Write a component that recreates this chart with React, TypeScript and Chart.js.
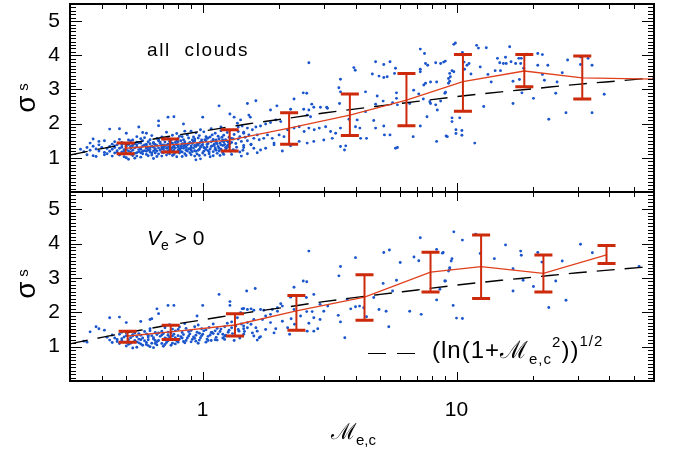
import React, { useEffect, useRef } from "react";
import { Chart, registerables } from "chart.js";

Chart.register(...registerables);

// ---------- axes ----------
const xMin = 0.3;
const xMax = 60;
const yMin = 0;
const yMax = 5.5;
const yTickLabels = [1, 2, 3, 4, 5];
const xTickLabels = [1, 10];

// ---------- binned means with error bars ----------
const topBinX = [0.497, 0.744, 1.277, 2.19, 3.8, 6.35, 10.6, 18.5, 31.3, 60];
const topBinMean = [1.28, 1.38, 1.52, 1.87, 2.25, 2.69, 3.23, 3.54, 3.34, 3.3];
const topBinLo: (number | null)[] = [1.12, 1.17, 1.2, 1.4, 1.65, 1.94, 2.36, 3.08, 2.72, null];
const topBinHi: (number | null)[] = [1.43, 1.55, 1.82, 2.32, 2.87, 3.47, 4.02, 4.02, 3.98, null];

const botBinX = [0.506, 0.748, 1.34, 2.34, 4.34, 7.9, 12.5, 22.0, 39.0];
const botBinMean = [1.31, 1.43, 1.63, 2.04, 2.44, 3.17, 3.33, 3.13, 3.67];
const botBinLo: (number | null)[] = [1.13, 1.21, 1.31, 1.48, 1.77, 2.59, 2.4, 2.59, 3.42];
const botBinHi: (number | null)[] = [1.45, 1.62, 1.96, 2.49, 3.09, 3.75, 4.25, 3.67, 3.94];

// ---------- reference curve (ln(1+M^2))^1/2 ----------
const curveX = [0.3, 0.4, 0.5, 0.7, 1, 1.5, 2, 3, 5, 7, 10, 15, 20, 30, 45, 60];
const curveY = [1.08, 1.27, 1.4, 1.6, 1.78, 1.99, 2.12, 2.31, 2.52, 2.65, 2.79, 2.93, 3.02, 3.15, 3.26, 3.34];

// ---------- scatter: all clouds ----------
const topCorePts: [number, number][] = [
  [0.44,1.05],[0.49,1.03],[0.53,1.07],[0.57,1.02],[0.61,1.06],[0.66,1.04],[0.72,1.08],[0.79,1.03],[0.86,1.07],[0.93,1.05],[1.02,1.08],[1.1,1.06],
  [0.42,1.12],[0.45,1.14],[0.47,1.1],[0.5,1.13],[0.52,1.11],[0.55,1.15],[0.58,1.12],[0.6,1.1],[0.63,1.14],[0.67,1.11],[0.7,1.15],[0.74,1.12],[0.77,1.1],[0.81,1.14],[0.85,1.12],[0.89,1.15],[0.95,1.11],[1.0,1.14],[1.06,1.12],[1.14,1.13],[1.21,1.1],
  [0.43,1.19],[0.46,1.21],[0.48,1.17],[0.51,1.2],[0.53,1.22],[0.56,1.18],[0.59,1.21],[0.62,1.17],[0.64,1.2],[0.68,1.22],[0.71,1.18],[0.73,1.21],[0.76,1.19],[0.8,1.22],[0.83,1.17],[0.87,1.2],[0.91,1.18],[0.96,1.22],[1.01,1.19],[1.05,1.21],[1.1,1.18],[1.16,1.2],[1.23,1.22],[1.29,1.19],
  [0.42,1.27],[0.44,1.25],[0.47,1.28],[0.49,1.24],[0.52,1.27],[0.54,1.29],[0.57,1.25],[0.6,1.28],[0.62,1.24],[0.65,1.27],[0.67,1.29],[0.7,1.25],[0.72,1.28],[0.75,1.26],[0.78,1.29],[0.81,1.25],[0.84,1.28],[0.88,1.26],[0.92,1.29],[0.97,1.25],[1.02,1.28],[1.07,1.26],[1.12,1.29],[1.18,1.25],[1.24,1.28],
  [0.43,1.33],[0.45,1.35],[0.48,1.31],[0.5,1.34],[0.53,1.36],[0.55,1.32],[0.58,1.35],[0.61,1.31],[0.63,1.34],[0.66,1.36],[0.69,1.32],[0.71,1.35],[0.74,1.33],[0.77,1.36],[0.8,1.31],[0.82,1.34],[0.86,1.32],[0.9,1.35],[0.94,1.33],[0.99,1.36],[1.04,1.32],[1.09,1.35],[1.15,1.33],[1.2,1.36],[1.27,1.32],
  [0.44,1.4],[0.46,1.38],[0.49,1.42],[0.51,1.39],[0.54,1.41],[0.57,1.43],[0.59,1.38],[0.62,1.41],[0.65,1.39],[0.68,1.42],[0.7,1.38],[0.73,1.4],[0.76,1.43],[0.79,1.39],[0.83,1.41],[0.87,1.38],[0.91,1.42],[0.95,1.4],[1.0,1.38],[1.05,1.42],[1.11,1.4],[1.17,1.43],[1.22,1.39],[1.28,1.41],
  [0.45,1.47],[0.48,1.45],[0.52,1.49],[0.55,1.46],[0.58,1.5],[0.61,1.47],[0.64,1.45],[0.67,1.49],[0.71,1.46],[0.74,1.48],[0.78,1.45],[0.82,1.5],[0.85,1.47],[0.89,1.45],[0.93,1.49],[0.98,1.46],[1.03,1.5],[1.08,1.47],[1.13,1.45],[1.19,1.49],[1.26,1.46],
  [0.47,1.54],[0.53,1.52],[0.57,1.56],[0.62,1.53],[0.66,1.57],[0.7,1.54],[0.75,1.52],[0.8,1.56],[0.84,1.53],[0.88,1.58],[0.93,1.55],[0.99,1.52],[1.04,1.57],[1.1,1.54],[1.16,1.56],[1.23,1.53],[1.3,1.57],
  [0.55,1.62],[0.63,1.65],[0.69,1.61],[0.76,1.66],[0.81,1.63],[0.87,1.67],[0.92,1.61],[0.97,1.65],[1.03,1.62],[1.09,1.67],[1.15,1.63],[1.21,1.66],[1.27,1.6],
  [0.6,1.72],[0.72,1.75],[0.79,1.71],[0.85,1.78],[0.94,1.73],[1.01,1.76],[1.12,1.72],[1.18,1.79],[1.25,1.74],
  [0.98,0.97],[0.64,0.98],[0.5,1.0],[0.41,1.16],[0.39,1.2],[0.38,1.26],[0.36,1.22],[0.34,1.18],[0.4,1.3],[0.37,1.34],[0.33,1.25],[0.35,1.3],[0.39,1.38],
  [1.32,1.24],[1.35,1.42],[1.38,1.55],[1.4,1.17],[1.33,1.68],[1.36,1.31],[1.42,1.48],[1.45,1.36],[1.47,1.6],[1.3,1.1],[1.38,1.77],[1.44,1.22],
  [1.05,1.58],[1.12,1.25],[1.2,1.15],[1.25,1.35],[1.3,1.45],[1.35,1.2],[1.4,1.62],[1.45,1.3],[1.5,1.5],[1.5,1.12],[1.55,1.4],[1.45,1.75],[1.38,1.9],[1.42,1.05],[1.28,1.8],[1.18,1.9],[1.08,1.85],[0.98,1.82],[0.9,1.78],[1.32,1.55],
  [0.52,1.17],[0.56,1.24],[0.6,1.19],[0.65,1.23],[0.69,1.16],[0.73,1.3],[0.77,1.23],[0.82,1.18],[0.86,1.3],[0.9,1.23],[0.55,1.38],[0.6,1.33],[0.64,1.42],[0.69,1.37],[0.75,1.44],[0.8,1.37],[0.85,1.43],[0.57,1.29],[0.7,1.3],[0.93,1.36],
  [0.46,1.16],[0.5,1.24],[0.54,1.13],[0.58,1.19],[0.62,1.3],[0.66,1.2],[0.7,1.34],[0.74,1.24],[0.78,1.16],[0.82,1.28],[0.86,1.22],[0.9,1.3],[0.94,1.19],[0.98,1.31],[1.03,1.24],[1.08,1.33],[1.13,1.22],[1.18,1.38],[1.23,1.3],[1.27,1.45],
  [0.48,1.38],[0.52,1.33],[0.56,1.44],[0.6,1.4],[0.64,1.31],[0.68,1.46],[0.72,1.37],[0.76,1.3],[0.8,1.47],[0.84,1.34],[0.88,1.41],[0.92,1.48],[0.96,1.37],[1.0,1.45],[1.04,1.39],[1.1,1.5],[1.14,1.41],[1.2,1.52],
  [0.45,1.3],[0.49,1.19],[0.53,1.41],[0.57,1.15],[0.61,1.23],[0.65,1.14],[0.69,1.27],[0.73,1.15],[0.77,1.32],[0.81,1.2],[0.85,1.38],[0.89,1.27],[0.93,1.21],[0.97,1.43],[1.01,1.3],[1.06,1.17],[1.11,1.36],[1.16,1.28],[1.21,1.46],[1.26,1.38],
  [0.51,1.52],[0.59,1.59],[0.67,1.53],[0.73,1.6],[0.79,1.5],[0.83,1.62],[0.91,1.52],[0.96,1.58],[1.02,1.53],[1.07,1.61],[1.13,1.52],[1.19,1.6],[1.24,1.5],
  [0.47,1.08],[0.55,1.05],[0.63,1.08],[0.69,1.05],[0.76,1.07],[0.83,1.04],[0.9,1.09],[0.97,1.07],[1.07,1.03],[1.17,1.07]
];
const topOuterPts: [number, number][] = [
  [1.16,2.52],[0.73,2.19],[0.77,2.2],[0.67,2.08],[0.67,1.94],[0.84,1.99],[1.0,2.19],[0.47,1.85],[0.5,1.72],[0.58,1.74],[0.56,1.9],[0.43,1.84],
  [1.28,2.28],[1.33,2.19],[1.37,2.01],[0.36,1.43],[0.37,1.55],[0.39,1.48],[0.41,1.5],[0.35,1.09],[0.37,1.06],[0.38,1.04],[0.41,1.09],[0.94,0.94],[0.51,0.96],[0.54,0.99]
];
const topMidPts: [number, number][] = [
  [2.62,3.78],[2.49,2.9],[2.57,2.89],[2.29,2.72],[2.69,2.57],[2.74,2.48],[3.1,2.45],[3.44,3.05],[3.49,2.93],[3.49,3.3],[3.46,2.59],[3.94,3.64],[3.99,3.56],
  [4.38,2.93],[4.8,3.81],[5.17,3.73],[5.47,3.81],[4.66,3.45],[4.95,3.39],[5.17,3.35],[5.75,3.62],[5.7,3.47],[5.8,2.9],[4.8,2.57],[5.14,2.66],[4.87,2.81],
  [5.6,2.61],[5.85,2.55],[4.72,2.09],[4.38,2.35],[3.77,2.13],[4.06,2.11],[4.0,1.91],[4.16,1.87],[3.66,1.35],[3.62,1.23],[4.19,1.57],[4.42,1.57],[5.2,1.67],
  [5.47,1.67],[5.75,1.28],[5.85,1.3],[6.75,1.62],[7.2,4.18],[7.48,4.05],[7.2,3.52],[7.9,3.22],[7.55,3.76],[7.7,3.71],[8.28,3.78],[7.1,2.87],[7.4,2.72],
  [7.9,2.59],[8.28,2.55],[7.65,2.2],[7.2,1.93],[9.2,1.62],[9.3,3.32],[9.4,3.47],[5.8,2.74],[5.33,3.37],[4.8,1.87],[5.17,1.93],
  [6.54,2.59],[6.78,2.98],[7.2,3.59],[7.43,3.13],[7.55,3.18],[7.85,2.64],[8.35,3.22],[8.4,2.4],[8.35,1.48],
  [1.5,2.59],[1.62,2.67],[1.85,2.4],[1.96,2.52],[1.52,2.25],[1.54,2.19],[1.41,2.11],[2.22,2.42],[2.5,2.42],[2.62,2.4],[2.91,2.48],[3.08,2.48],[2.58,2.25],[2.66,2.2],
  [1.43,1.93],[1.5,1.87],[1.57,1.82],[1.62,1.9],[1.69,1.93],[1.77,1.99],[1.85,2.03],[1.94,2.11],[2.03,2.06],
  [1.45,1.72],[1.52,1.67],[1.59,1.57],[1.64,1.67],[1.67,1.53],[1.74,1.57],[1.8,1.67],[1.88,1.57],[1.91,1.43],[2.0,1.67],[2.09,1.62],[2.16,1.82],[2.29,1.87],
  [2.4,1.91],[2.51,1.77],[2.62,1.87],[2.75,1.82],[2.88,1.87],[3.05,1.91],[3.19,1.77],[3.34,1.72],[3.49,1.87],
  [1.55,1.38],[1.59,1.28],[1.64,1.15],[1.69,1.23],[1.77,1.28],[1.91,1.38],[2.06,1.2],[2.22,1.35],[2.4,1.48],[2.58,1.43],[2.74,1.48],[3.0,1.52],[3.24,1.57],[3.49,1.33]
];
const topHighPts: [number, number][] = [
  [9.76,4.32],[9.9,4.36],[10.55,4.08],[8.66,3.76],[8.9,3.8],[9.04,3.83],[9.6,3.55],[9.76,3.52],[9.46,3.37],[9.4,3.24],[9.3,3.18],[9.0,2.89],[8.66,2.66],
  [10.7,3.8],[10.76,3.59],[11.0,3.71],[11.2,3.76],[11.4,3.45],[12.0,4.29],[12.2,4.21],[13.1,4.22],[12.4,3.66],[13.3,3.44],[13.7,3.22],[14.2,3.55],[14.9,3.55],
  [14.5,3.91],[14.8,3.78],[15.3,3.76],[15.7,3.76],[15.6,3.94],[16.2,4.25],[16.4,3.81],[17.1,3.76],[17.6,3.91],[18.0,3.91],[17.9,3.76],[18.4,3.62],[16.7,3.24],
  [17.7,3.29],[18.1,2.9],[16.7,2.59],[18.9,4.03],[20.9,4.05],[21.8,4.02],[20.9,3.71],[21.8,3.44],[22.9,3.71],[22.2,3.27],[20.1,2.74],[24.6,2.89],[24.9,3.22],
  [26.1,3.49],[27.4,3.86],[30.8,3.95],[33.0,3.91],[30.8,3.73],[34.2,3.71],[23.1,2.13],[27.0,2.32],[34.2,2.32],[38.2,2.86],[12.8,2.5],[9.6,2.17],[10.3,2.17],
  [9.6,2.06],[9.95,1.82],[10.5,1.8],[9.95,1.71],[10.5,1.66],[9.1,1.64],[11.8,1.43],[9.05,2.92]
];

// ---------- scatter: V_e > 0 ----------
const botCorePts: [number, number][] = [
  [0.5,1.02],[0.55,0.98],[0.58,1.04],[0.62,1.0],[0.66,1.05],[0.7,1.01],[0.75,1.04],[0.53,0.96],[0.6,1.06],[0.64,0.97],
  [0.44,1.12],[0.47,1.09],[0.5,1.13],[0.52,1.1],[0.55,1.14],[0.57,1.08],[0.6,1.12],[0.63,1.1],[0.66,1.14],[0.69,1.09],[0.72,1.12],[0.76,1.1],[0.8,1.13],[0.85,1.11],[0.9,1.14],[0.96,1.1],[1.03,1.13],
  [0.43,1.19],[0.46,1.21],[0.48,1.17],[0.51,1.2],[0.54,1.18],[0.56,1.22],[0.59,1.17],[0.61,1.2],[0.64,1.22],[0.67,1.18],[0.7,1.21],[0.73,1.17],[0.77,1.2],[0.81,1.22],[0.86,1.18],[0.91,1.21],[0.97,1.19],[1.04,1.22],[1.12,1.2],
  [0.42,1.27],[0.45,1.25],[0.49,1.28],[0.52,1.26],[0.55,1.29],[0.58,1.25],[0.61,1.28],[0.64,1.26],[0.68,1.3],[0.71,1.25],[0.74,1.28],[0.78,1.26],[0.82,1.29],[0.87,1.25],[0.92,1.28],[0.98,1.26],[1.05,1.3],[1.13,1.27],[1.2,1.25],
  [0.44,1.34],[0.47,1.36],[0.5,1.32],[0.53,1.35],[0.57,1.33],[0.6,1.37],[0.63,1.32],[0.66,1.35],[0.7,1.38],[0.73,1.33],[0.77,1.36],[0.8,1.32],[0.84,1.35],[0.89,1.37],[0.94,1.33],[1.0,1.36],[1.07,1.34],[1.15,1.37],[1.23,1.33],
  [0.48,1.42],[0.54,1.4],[0.59,1.44],[0.65,1.41],[0.69,1.45],[0.73,1.42],[0.78,1.46],[0.83,1.41],[0.88,1.44],[0.95,1.42],[1.01,1.46],[1.08,1.41],[1.17,1.44],[1.26,1.42],
  [0.62,1.52],[0.71,1.55],[0.76,1.51],[0.81,1.57],[0.86,1.53],[0.93,1.58],[0.99,1.52],[1.06,1.56],[1.14,1.53],[1.22,1.58],[1.3,1.55],
  [0.74,1.64],[0.85,1.67],[0.96,1.63],[1.1,1.66],[1.25,1.68],
  [1.22,1.3],[1.27,1.48],[1.31,1.38],[1.35,1.6],[1.4,1.25],[1.33,1.18],[1.38,1.5],[1.42,1.66],[1.46,1.44],[1.3,1.72],
  [0.48,1.23],[0.53,1.31],[0.57,1.2],[0.61,1.33],[0.65,1.18],[0.69,1.34],[0.72,1.23],[0.76,1.31],[0.79,1.17],[0.83,1.25],[0.88,1.31],[0.93,1.24],[0.99,1.32],[1.05,1.18],[1.1,1.38],
  [0.46,1.15],[0.51,1.07],[0.56,1.11],[0.61,1.03],[0.65,1.09],[0.71,1.06],[0.78,1.08],[0.84,1.15],[0.94,1.16],
  [0.56,1.38],[0.62,1.46],[0.67,1.4],[0.75,1.4],[0.8,1.5],[0.9,1.47],[0.97,1.39],[1.03,1.49],[1.12,1.46],[1.18,1.51]
];
const botOuterPts: [number, number][] = [
  [1.16,2.52],[0.73,2.2],[0.77,2.2],[0.66,2.1],[0.67,1.96],[0.62,1.79],[1.0,2.2],[1.28,2.31],[1.28,2.2],[0.47,1.86],[0.43,1.84],[0.5,1.7],[0.95,1.89],
  [0.57,1.73],[0.63,1.81],[1.43,2.1],[1.37,1.84],[0.36,1.43],[0.38,1.58],[0.39,1.52],[0.41,1.48],[0.34,1.16],[0.35,1.13],[1.08,1.18],[1.14,1.19],[1.22,1.21],
  [1.09,1.41],[1.2,1.36],[1.39,1.45],[1.45,1.52],[1.45,1.36],[1.5,1.7]
];
const botMidPts: [number, number][] = [
  [2.62,3.78],[2.49,2.91],[2.57,2.89],[2.29,2.73],[2.74,2.52],[2.56,2.43],[2.22,2.44],[1.49,2.62],[1.61,2.69],
  [1.41,1.99],[1.45,2.11],[1.5,2.08],[1.55,2.1],[1.59,2.06],[1.69,2.08],[1.74,2.06],[1.88,2.08],[1.97,2.13],[2.03,2.25],[2.06,2.18],[1.97,2.03],[1.85,1.94],
  [1.77,1.89],[1.72,1.79],[1.59,1.79],[1.55,1.65],[1.45,1.6],[1.5,1.55],[1.62,1.55],[1.64,1.45],[1.57,1.4],[1.67,1.26],[1.64,1.19],[1.59,1.31],[1.69,1.29],
  [1.77,1.5],[1.85,1.7],[1.91,1.4],[1.94,1.52],[2.06,1.74],[2.16,1.55],[2.23,1.81],[2.29,2.08],[2.3,1.65],[2.43,1.89],[2.57,2.02],[2.7,2.02],[2.62,1.68],
  [2.74,1.84],[2.84,1.52],[2.74,1.45],[2.58,1.45],[2.2,1.36],[2.9,1.79],[2.9,2.23],[3.0,2.03],[3.11,2.18],[3.42,1.91],[3.49,1.72],[3.63,1.26],[3.49,3.33],
  [3.44,3.06],[3.71,2.38],[3.83,2.1],[4.0,2.16],[4.15,2.18],[4.31,2.13],[4.42,1.87],[4.0,3.59],[4.72,2.43],[4.95,2.08],[5.14,2.84],[5.28,2.03],[5.41,1.58],
  [5.6,2.62],[5.8,2.93],[6.0,3.45],[5.17,3.74],[5.44,3.81],[6.54,2.03],[6.8,3.61],[7.1,3.5],[7.2,4.17],[7.26,1.94],[8.35,3.83],[8.8,3.72],[8.99,2.91],
  [8.35,2.36],[8.6,2.67],[9.4,3.3],[9.3,3.2]
];
const botHighPts: [number, number][] = [
  [9.76,4.34],[10.55,4.1],[8.86,3.74],[9.6,3.56],[9.53,3.49],[9.4,3.25],[9.05,2.91],[9.7,2.2],[10.0,1.83],[10.55,1.82],[11.9,4.27],[12.4,3.71],[14.1,3.56],
  [15.6,3.96],[17.9,3.78],[18.0,3.66],[16.7,3.27],[16.7,2.62],[18.3,2.93],[20.1,2.75],[20.9,3.74],[21.7,3.46],[24.6,2.91],[26.1,3.49],[23.1,2.14],[27.0,2.35],
  [30.8,3.98],[34.3,3.73],[52.4,3.33]
];

// ---------- styling ----------
const BLUE = "#1a55cc";
const RED_LINE = "#e0401c";
const RED_BAR = "#cc2a0a";
const FONT = "'Liberation Sans', Arial, Helvetica, sans-serif";
const W = 673;
const H = 462;
const PLOT_LEFT = 70;
const PLOT_RIGHT = 654;
const TOP_Y0 = 4;
const MID_Y = 192;
const BOT_Y1 = 381;

function makeFramePlugin(lo: (number | null)[], hi: (number | null)[], bx: number[], id: string) {
  return {
    id,
    afterDatasetsDraw(chart: any) {
      const ctx = chart.ctx;
      const xs = chart.scales.x;
      const ys = chart.scales.y;
      ctx.save();
      ctx.strokeStyle = RED_BAR;
      ctx.lineCap = "butt";
      for (let i = 0; i < bx.length; i++) {
        const l = lo[i];
        const h = hi[i];
        if (l == null || h == null) continue;
        const px = xs.getPixelForValue(bx[i]);
        const pl = ys.getPixelForValue(l);
        const ph = ys.getPixelForValue(h);
        ctx.lineWidth = 2;
        ctx.beginPath();
        ctx.moveTo(px, pl);
        ctx.lineTo(px, ph);
        ctx.stroke();
        ctx.lineWidth = 3;
        ctx.beginPath();
        ctx.moveTo(px - 9, pl);
        ctx.lineTo(px + 9, pl);
        ctx.moveTo(px - 9, ph);
        ctx.lineTo(px + 9, ph);
        ctx.stroke();
      }
      ctx.restore();
    },
    afterDraw(chart: any) {
      const ctx = chart.ctx;
      const a = chart.chartArea;
      const xs = chart.scales.x;
      const ys = chart.scales.y;
      ctx.save();
      ctx.strokeStyle = "#000";
      ctx.lineWidth = 1;
      ctx.beginPath();
      for (let k = 0; k <= 55; k++) {
        const v = k / 10;
        const py = Math.round(ys.getPixelForValue(v)) + 0.5;
        const len = k % 10 === 0 ? 12 : 6;
        ctx.moveTo(a.left, py);
        ctx.lineTo(a.left + len, py);
        ctx.moveTo(a.right, py);
        ctx.lineTo(a.right - len, py);
      }
      const decades = [0.1, 1, 10];
      for (const d of decades) {
        for (let m = 1; m <= 9; m++) {
          const v = d * m;
          if (v < xMin - 1e-9 || v > xMax + 1e-9) continue;
          const px = Math.round(xs.getPixelForValue(v)) + 0.5;
          const len = m === 1 ? 9 : 5;
          ctx.moveTo(px, a.top);
          ctx.lineTo(px, a.top + len);
          ctx.moveTo(px, a.bottom);
          ctx.lineTo(px, a.bottom - len);
        }
      }
      ctx.stroke();
      ctx.lineWidth = 2;
      ctx.strokeRect(a.left, a.top, a.right - a.left, a.bottom - a.top);
      ctx.restore();
    },
  };
}

function buildConfig(
  pts: [number, number][],
  bx: number[],
  bm: number[],
  lo: (number | null)[],
  hi: (number | null)[],
  isBottom: boolean
): any {
  const tickFont = { family: FONT, size: 21 };
  return {
    type: "scatter",
    data: {
      datasets: [
        {
          label: "mean",
          data: bx.map((x, i) => ({ x, y: bm[i] })),
          showLine: true,
          borderColor: RED_LINE,
          borderWidth: 1.3,
          pointRadius: 0,
          fill: false,
        },
        {
          label: "(ln(1+M^2))^1/2",
          data: curveX.map((x, i) => ({ x, y: curveY[i] })),
          showLine: true,
          borderColor: "#000",
          borderWidth: 1.4,
          borderDash: [18, 10],
          pointRadius: 0,
          cubicInterpolationMode: "monotone",
          fill: false,
        },
        {
          label: "clouds",
          data: pts.map(([x, y]) => ({ x, y })),
          showLine: false,
          pointRadius: 1.45,
          pointBorderWidth: 0,
          pointBackgroundColor: BLUE,
          backgroundColor: BLUE,
          borderColor: BLUE,
        },
      ],
    },
    options: {
      animation: false,
      responsive: false,
      maintainAspectRatio: false,
      events: [],
      layout: {
        padding: isBottom
          ? { left: 0, right: W - PLOT_RIGHT, top: MID_Y, bottom: 0 }
          : { left: 0, right: W - PLOT_RIGHT, top: TOP_Y0, bottom: H - MID_Y },
      },
      plugins: { legend: { display: false }, tooltip: { enabled: false } },
      scales: {
        x: {
          type: "logarithmic",
          min: xMin,
          max: xMax,
          display: isBottom,
          grid: { display: false, drawTicks: false },
          border: { display: false },
          ticks: {
            autoSkip: false,
            maxRotation: 0,
            padding: 17,
            color: "#000",
            font: tickFont,
            callback: (v: number) => {
              const hit = xTickLabels.find((t) => Math.abs(t - v) < 1e-9);
              return hit !== undefined ? String(hit) : "";
            },
          },
          afterFit: (s: any) => {
            s.height = isBottom ? H - BOT_Y1 : 0;
            s.paddingLeft = 0;
            s.paddingRight = 0;
          },
        },
        y: {
          type: "linear",
          min: yMin,
          max: yMax,
          grid: { display: false, drawTicks: false },
          border: { display: false },
          ticks: {
            stepSize: 1,
            includeBounds: false,
            padding: 10,
            color: "#000",
            font: tickFont,
            callback: (v: number) => (yTickLabels.includes(v) ? String(v) : ""),
          },
          afterFit: (s: any) => {
            s.width = PLOT_LEFT;
            s.paddingTop = 0;
            s.paddingBottom = 0;
          },
        },
      },
    },
    plugins: [makeFramePlugin(lo, hi, bx, isBottom ? "frameBottom" : "frameTop")],
  };
}

const abs = (s: React.CSSProperties): React.CSSProperties => ({
  position: "absolute",
  whiteSpace: "pre",
  color: "#000",
  fontFamily: FONT,
  lineHeight: 1,
  pointerEvents: "none",
  ...s,
});

function RotText({ cx, cy, size, text }: { cx: number; cy: number; size: number; text: string }) {
  return (
    <div
      style={abs({
        left: cx,
        top: cy,
        fontSize: size,
        transform: "translate(-50%, -50%) rotate(-90deg)",
        transformOrigin: "50% 50%",
      })}
    >
      {text}
    </div>
  );
}

export default function App() {
  const topRef = useRef<HTMLCanvasElement | null>(null);
  const botRef = useRef<HTMLCanvasElement | null>(null);

  useEffect(() => {
    const topPts = [...topCorePts, ...topOuterPts, ...topMidPts, ...topHighPts];
    const botPts = [...botCorePts, ...botOuterPts, ...botMidPts, ...botHighPts];
    const c1 = new Chart(topRef.current as HTMLCanvasElement, buildConfig(topPts, topBinX, topBinMean, topBinLo, topBinHi, false));
    const c2 = new Chart(botRef.current as HTMLCanvasElement, buildConfig(botPts, botBinX, botBinMean, botBinLo, botBinHi, true));
    return () => {
      c1.destroy();
      c2.destroy();
    };
  }, []);

  const canvasStyle: React.CSSProperties = { position: "absolute", left: 0, top: 0, width: W, height: H };

  return (
    <div style={{ position: "fixed", left: 0, top: 0, width: W, height: H, background: "#fff", overflow: "hidden" }}>
      <canvas ref={topRef} width={W} height={H} style={canvasStyle} />
      <canvas ref={botRef} width={W} height={H} style={canvasStyle} />

      <RotText cx={26} cy={104} size={28} text="σ" />
      <RotText cx={22} cy={87} size={15} text="s" />
      <RotText cx={26} cy={290} size={28} text="σ" />
      <RotText cx={22} cy={273} size={15} text="s" />

      <div style={abs({ left: 147, top: 40, fontSize: 19, letterSpacing: 1.6 })}>all  clouds</div>

      <div style={abs({ left: 147, top: 227, fontSize: 21 })}>
        <i>V</i>
        <span style={{ fontSize: 14, verticalAlign: -5 }}>e</span>
        <span> &gt; 0</span>
      </div>

      <div style={abs({ left: 368, top: 353, width: 18, height: 0, borderTop: "1.5px solid #000" })} />
      <div style={abs({ left: 397, top: 353, width: 18, height: 0, borderTop: "1.5px solid #000" })} />
      <div style={abs({ left: 432, top: 333, fontSize: 24, letterSpacing: 1 })}>
        <span>(ln(1+</span>
        <span>ℳ</span>
        <span style={{ fontSize: 15, verticalAlign: -6 }}>e,c</span>
        <span style={{ fontSize: 15, verticalAlign: 11 }}>2</span>
        <span>))</span>
        <span style={{ fontSize: 15, verticalAlign: 12 }}>1/2</span>
      </div>

      <div style={abs({ left: 331, top: 421, fontSize: 22 })}>
        <span>ℳ</span>
        <span style={{ fontSize: 15, verticalAlign: -6 }}>e,c</span>
      </div>
    </div>
  );
}
